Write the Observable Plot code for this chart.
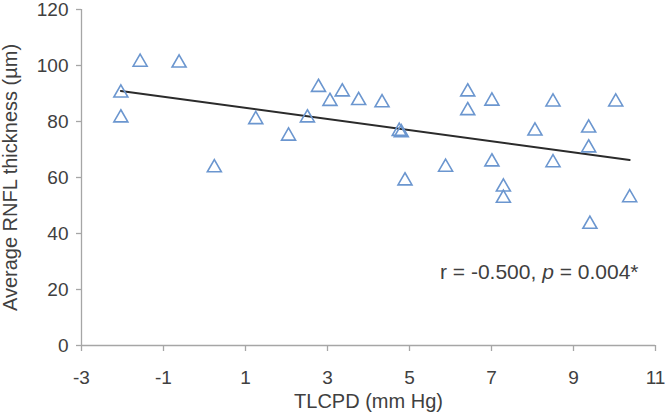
<!DOCTYPE html>
<html>
<head>
<meta charset="utf-8">
<script src="https://cdn.jsdelivr.net/npm/d3@7"></script>
<script src="https://cdn.jsdelivr.net/npm/@observablehq/plot@0.6"></script>
<style>
  html, body { margin: 0; padding: 0; background: #fff; }
  #chart { width: 665px; height: 420px; }
</style>
</head>
<body>
<div id="chart"></div>
<script>
// TLCPD (mm Hg) vs average RNFL thickness (µm), one triangle per eye
const tlcpd = [-2.04, -2.04, -1.57, -0.62, 0.24, 1.25, 2.05, 2.51, 2.78, 3.06, 3.36,
  3.76, 4.33, 4.75, 4.80, 4.89, 5.88, 6.42, 6.42, 7.01, 7.01, 7.29, 7.29, 8.06,
  8.50, 8.50, 9.37, 9.37, 9.40, 10.03, 10.37];
const rnfl = [90.2, 81.3, 101.2, 100.9, 63.5, 80.7, 74.8, 81.3, 92.2, 87.2, 90.6,
  87.5, 86.7, 76.5, 76.0, 58.8, 63.7, 90.6, 83.9, 87.3, 65.6, 56.6, 52.6, 76.6,
  87.0, 65.3, 77.7, 70.6, 43.3, 87.0, 52.8];

const xTicks = [-3, -1, 1, 3, 5, 7, 9, 11];
const yTicks = [0, 20, 40, 60, 80, 100, 120];
const xLabel = "TLCPD (mm Hg)";
const yLabel = "Average RNFL thickness (\u00b5m)";

const points = tlcpd.map((x, i) => ({x, y: rnfl[i]}));

const axisGray = "#a6a6a6";
const textColor = "#404040";
const font = "'Liberation Sans', Arial, sans-serif";
const plain = d => String(d); // hyphen-minus like the spreadsheet labels

const chart = Plot.plot({
  width: 665,
  height: 420,
  marginLeft: 81,
  marginRight: 10,
  marginTop: 9,
  marginBottom: 75,
  x: {domain: [-3, 11]},
  y: {domain: [0, 120]},
  style: {fontFamily: font, fontSize: "19px", color: textColor, background: "#fff"},
  marks: [
    Plot.ruleY([0], {stroke: axisGray, strokeWidth: 1.3}),
    Plot.ruleX([-3], {stroke: axisGray, strokeWidth: 1.3}),
    Plot.axisX({ticks: xTicks, tickFormat: plain, tickSize: 6, tickPadding: 19, stroke: axisGray, strokeWidth: 1.3, label: null, fill: textColor, fontSize: 19}),
    Plot.axisY({ticks: yTicks, tickFormat: plain, tickSize: 5, tickPadding: 8, stroke: axisGray, strokeWidth: 1.3, label: null, fill: textColor, fontSize: 19}),
    Plot.text([xLabel], {frameAnchor: "bottom", dy: 62, fill: textColor, fontSize: 20}),
    Plot.text([yLabel], {frameAnchor: "left", textAnchor: "middle", rotate: -90, dx: -71, fill: textColor, fontSize: 20}),
    Plot.linearRegressionY(points, {x: "x", y: "y", stroke: "#2b2b2b", strokeWidth: 2, ci: 0}),
    Plot.dot(points, {x: "x", y: "y", symbol: "triangle", r: 5.2, stroke: "#6b96cf", strokeWidth: 1.6, fill: "none"})
  ]
});

// statistics annotation with italic p
const svg = d3.select(chart);
const t = svg.append("text")
  .attr("x", 440)
  .attr("y", 279)
  .attr("text-anchor", "start")
  .attr("fill", textColor)
  .attr("font-size", 21)
  .attr("font-family", font);
t.append("tspan").text("r = -0.500, ");
t.append("tspan").attr("font-style", "italic").text("p");
t.append("tspan").text(" = 0.004*");

document.getElementById("chart").appendChild(chart);
</script>
</body>
</html>
